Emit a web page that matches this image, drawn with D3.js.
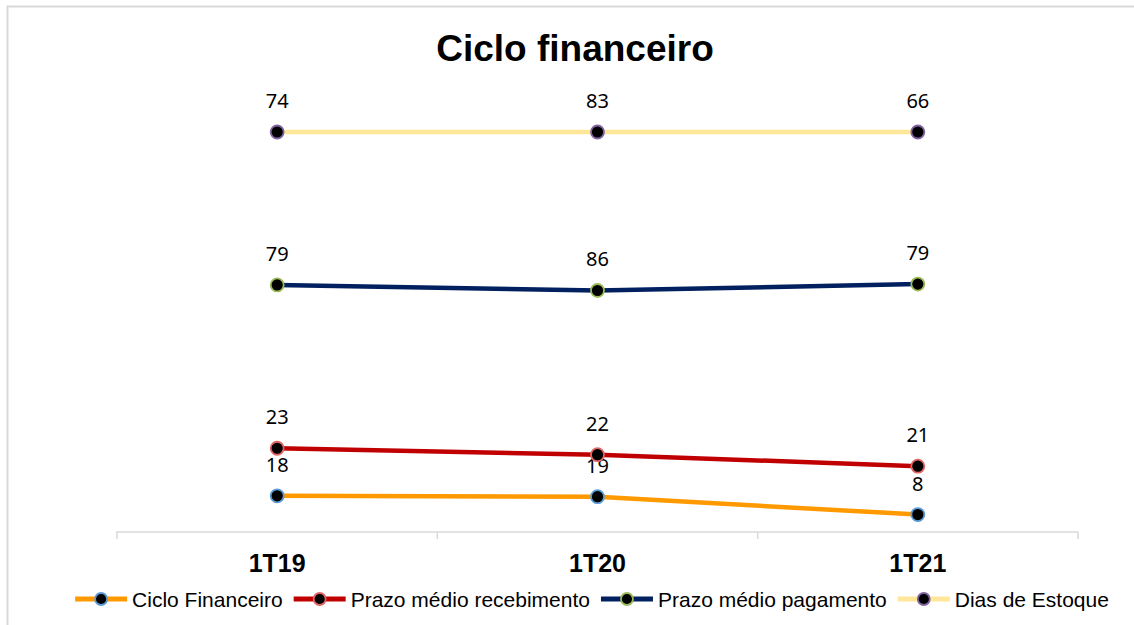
<!DOCTYPE html>
<html>
<head>
<meta charset="utf-8">
<script src="https://cdn.jsdelivr.net/npm/d3@7"></script>
<style>
  body { margin: 0; background: #fff; }
  svg { display: block; }
</style>
</head>
<body>
<div id="chart"></div>
<script>
// categories and series (days), drawn as a 100% stacked line chart like the Excel original
var categories = ['1T19', '1T20', '1T21'];
var seriesNames = ['Ciclo Financeiro', 'Prazo médio recebimento', 'Prazo médio pagamento', 'Dias de Estoque'];
var cicloFinanceiro = [18, 19, 8];
var prazoRecebimento = [23, 22, 21];
var prazoPagamento = [79, 86, 79];
var diasEstoque = [74, 83, 66];

var lineColors = ['#ff9900', '#c00000', '#002060', '#ffe699'];
var ringColors = ['#5b9bd5', '#e06666', '#9bbb59', '#8064a2'];

(function() {
    var W = 1134, H = 625;
    var svg = d3.select('#chart').append('svg')
        .attr('width', W)
        .attr('height', H);

    // chart area border (only left/top visible in the picture)
    svg.append('rect')
        .attr('x', 7.5).attr('y', 6.5)
        .attr('width', 1300).attr('height', 800)
        .style('fill', 'none')
        .style('stroke', '#d9d9d9')
        .style('stroke-width', 2);

    svg.append('text')
        .text('Ciclo financeiro')
        .attr('x', 575).attr('y', 61)
        .attr('text-anchor', 'middle')
        .style('font-family', "'Liberation Sans', Arial, sans-serif")
        .style('font-weight', 700)
        .style('font-size', '37px')
        .style('fill', '#000');

    var rows = categories.map(function(c, i) {
        return {
            cat: c,
            s0: cicloFinanceiro[i],
            s1: prazoRecebimento[i],
            s2: prazoPagamento[i],
            s3: diasEstoque[i]
        };
    });
    var keys = ['s0', 's1', 's2', 's3'];
    var stacked = d3.stack().keys(keys).offset(d3.stackOffsetExpand)(rows);

    var plot = {left: 117, right: 1078, top: 132, bottom: 532};
    var xScale = d3.scaleBand()
        .domain(categories)
        .range([plot.left, plot.right]);
    var yScale = d3.scaleLinear()
        .domain([0, 1])
        .range([533, 132]);

    // x axis with ticks between categories
    var xAxis = d3.axisBottom(xScale).tickSize(0).tickFormat(function(d) { return d; });
    var gx = svg.append('g')
        .attr('transform', 'translate(0,' + plot.bottom + ')')
        .call(xAxis);
    gx.select('.domain')
        .attr('d', 'M' + plot.left + ',7V0H' + plot.right + 'V7')
        .style('stroke', '#d9d9d9')
        .style('stroke-width', 1.5);
    gx.selectAll('text')
        .attr('y', 40)
        .attr('dy', 0)
        .style('font-family', "'Liberation Sans', Arial, sans-serif")
        .style('font-weight', 700)
        .style('font-size', '25px')
        .style('fill', '#000');
    var bounds = d3.range(1, categories.length).map(function(i) { return xScale(categories[i]); });
    gx.selectAll('line.sep')
        .data(bounds)
        .enter()
        .append('line').classed('sep', true)
        .attr('x1', function(d) { return d; })
        .attr('x2', function(d) { return d; })
        .attr('y1', 0).attr('y2', 7)
        .style('stroke', '#d9d9d9')
        .style('stroke-width', 1.5);

    var cx = function(d) { return xScale(d.data.cat) + xScale.bandwidth() / 2; };
    var line = d3.line()
        .x(cx)
        .y(function(d) { return yScale(d[1]); });

    var series = svg.selectAll('g.series')
        .data(stacked)
        .enter()
        .append('g').classed('series', true);

    series.append('path')
        .attr('d', function(d) { return line(d); })
        .style('fill', 'none')
        .style('stroke', function(d, i) { return lineColors[i]; })
        .style('stroke-width', 4.5)
        .style('stroke-linejoin', 'round');

    series.selectAll('circle')
        .data(function(d, i) { return d.map(function(p) { p.si = i; return p; }); })
        .enter()
        .append('circle')
        .attr('cx', cx)
        .attr('cy', function(d) { return yScale(d[1]); })
        .attr('r', 6.5)
        .style('fill', '#000')
        .style('stroke', function(d) { return ringColors[d.si]; })
        .style('stroke-width', 1.8);

    series.selectAll('text.lbl')
        .data(function(d) { return d; })
        .enter()
        .append('text').classed('lbl', true)
        .text(function(d) { return d.data[keys[d.si]]; })
        .attr('x', cx)
        .attr('y', function(d) { return yScale(d[1]) - 24; })
        .attr('text-anchor', 'middle')
        .style('font-family', "'Noto Sans', 'Open Sans', sans-serif")
        .style('font-size', '20px')
        .style('fill', '#000');

    // legend
    var legend = svg.append('g').attr('transform', 'translate(0,599)');
    var items = legend.selectAll('g.item')
        .data(seriesNames)
        .enter()
        .append('g').classed('item', true);
    items.append('line')
        .attr('x1', 0).attr('x2', 52)
        .attr('y1', 0).attr('y2', 0)
        .style('stroke', function(d, i) { return lineColors[i]; })
        .style('stroke-width', 5);
    items.append('circle')
        .attr('cx', 26).attr('cy', 0).attr('r', 6)
        .style('fill', '#000')
        .style('stroke', function(d, i) { return ringColors[i]; })
        .style('stroke-width', 1.8);
    items.append('text')
        .text(function(d) { return d; })
        .attr('x', 57)
        .attr('y', 7.5)
        .style('font-family', "'Liberation Sans', Arial, sans-serif")
        .style('font-size', '21px')
        .style('fill', '#000');
    var widths = [];
    items.each(function() { widths.push(this.getBBox().width); });
    var gap = 11;
    var total = d3.sum(widths) + gap * (widths.length - 1);
    var x0 = 592 - total / 2;
    items.attr('transform', function(d, i) {
        var x = x0 + d3.sum(widths.slice(0, i)) + gap * i;
        return 'translate(' + x + ',0)';
    });
})();
</script>
</body>
</html>
